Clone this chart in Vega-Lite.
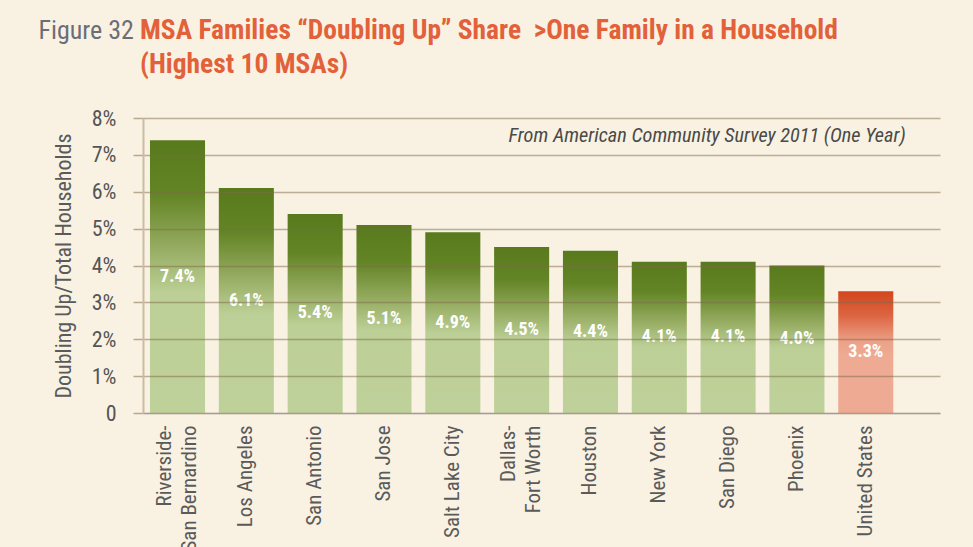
{
  "$schema": "https://vega.github.io/schema/vega-lite/v6.json",
  "width": 797,
  "height": 295,
  "autosize": {"type": "none"},
  "padding": {"left": 143, "top": 118, "right": 33, "bottom": 134},
  "background": "#f9f2e3",
  "config": {
    "view": {"stroke": null},
    "font": "Roboto Condensed, DejaVu Sans Condensed, sans-serif",
    "axisY": {
      "title": "Doubling Up/Total Households",
      "titleFontSize": 22,
      "titleFontWeight": "normal",
      "titleColor": "#5a5a5a",
      "titlePadding": 16,
      "values": [0, 1, 2, 3, 4, 5, 6, 7, 8],
      "labelOverlap": false,
      "labelExpr": "datum.value == 0 ? '0' : datum.value + '%'",
      "labelFontSize": 22,
      "labelColor": "#555555",
      "labelPadding": 17,
      "tickSize": 10,
      "tickColor": "#8a7758",
      "tickOpacity": 0.6,
      "tickWidth": 1.5,
      "grid": true,
      "gridColor": "#7d6a4a",
      "gridOpacity": 0.5,
      "gridWidth": 1.5,
      "domainColor": "#cbbba2",
      "domainWidth": 2,
      "zindex": 1
    }
  },
  "title": {
    "text": ["MSA Families \u201cDoubling Up\u201d Share \u00a0>One Family in a Household", "(Highest 10 MSAs)"],
    "anchor": "start",
    "frame": "group",
    "dx": -3,
    "offset": -61,
    "font": "Roboto Condensed, DejaVu Sans Condensed, sans-serif",
    "fontSize": 27.5,
    "fontWeight": "bold",
    "color": "#e2613a",
    "lineHeight": 34
  },
  "data": {
    "values": [
      {"msa": "Riverside-San Bernardino", "value": 7.4, "group": "MSA"},
      {"msa": "Los Angeles", "value": 6.1, "group": "MSA"},
      {"msa": "San Antonio", "value": 5.4, "group": "MSA"},
      {"msa": "San Jose", "value": 5.1, "group": "MSA"},
      {"msa": "Salt Lake City", "value": 4.9, "group": "MSA"},
      {"msa": "Dallas-Fort Worth", "value": 4.5, "group": "MSA"},
      {"msa": "Houston", "value": 4.4, "group": "MSA"},
      {"msa": "New York", "value": 4.1, "group": "MSA"},
      {"msa": "San Diego", "value": 4.1, "group": "MSA"},
      {"msa": "Phoenix", "value": 4.0, "group": "MSA"},
      {"msa": "United States", "value": 3.3, "group": "US"}
    ]
  },
  "encoding": {
    "x": {
      "field": "msa",
      "type": "nominal",
      "sort": null,
      "scale": {"paddingInner": 0.2, "paddingOuter": 0.39, "align": 0.13},
      "axis": {
        "title": "Figure 32",
        "titleX": -105,
        "titleY": -375,
        "titleAlign": "left",
        "titleBaseline": "alphabetic",
        "titleAngle": 0,
        "titleFontSize": 26,
        "titleFontWeight": "normal",
        "titleColor": "#6b6e77",
        "labelAngle": -90,
        "labelFontSize": 21,
        "labelColor": "#5a5a5a",
        "labelPadding": 12,
        "labelLineHeight": 25,
        "labelOffset": {
          "condition": {"test": "datum.value == 'Riverside-San Bernardino' || datum.value == 'Dallas-Fort Worth'", "value": -12.5},
          "value": 0
        },
        "ticks": false,
        "domainColor": "#d2d0cc",
        "domainWidth": 1.5,
        "labelExpr": "datum.label == 'Riverside-San Bernardino' ? ['Riverside-', 'San Bernardino'] : datum.label == 'Dallas-Fort Worth' ? ['Dallas-', 'Fort Worth'] : datum.label"
      }
    }
  },
  "layer": [
    {
      "mark": {"type": "bar"},
      "encoding": {
        "y": {
          "field": "value",
          "type": "quantitative",
          "scale": {"domain": [0, 8], "nice": false},
          "title": "Doubling Up/Total Households",
          "axis": {"zindex": 1}
        },
        "fill": {
          "condition": {
            "test": "datum.group == 'US'",
            "value": {
              "gradient": "linear", "x1": 0, "y1": 0, "x2": 0, "y2": 1,
              "stops": [
                {"offset": 0, "color": "#d2461e"},
                {"offset": 0.2, "color": "#dc6542"},
                {"offset": 0.42, "color": "#eca38a"},
                {"offset": 0.52, "color": "#eeaa92"},
                {"offset": 1, "color": "#eeaa92"}
              ]
            }
          },
          "value": {
            "gradient": "linear", "x1": 0, "y1": 0, "x2": 0, "y2": 1,
            "stops": [
              {"offset": 0, "color": "#587a1c"},
              {"offset": 0.2, "color": "#648526"},
              {"offset": 0.4, "color": "#97ad63"},
              {"offset": 0.56, "color": "#bccf96"},
              {"offset": 1, "color": "#bfd19a"}
            ]
          }
        }
      }
    },
    {
      "transform": [
        {"calculate": "datum.value / 2", "as": "mid"},
        {"calculate": "format(datum.value, '.1f') + '%'", "as": "label"}
      ],
      "mark": {"type": "text", "color": "white", "fontWeight": "bold", "fontSize": 18, "baseline": "middle"},
      "encoding": {
        "y": {"field": "mid", "type": "quantitative", "title": "Doubling Up/Total Households", "axis": {"zindex": 1}},
        "text": {"field": "label"}
      }
    },
    {
      "data": {"values": [{"msa": "United States", "y": 7.5, "note": "From American Community Survey 2011 (One Year)"}]},
      "mark": {"type": "text", "align": "right", "baseline": "middle", "dx": 40, "fontStyle": "italic", "fontSize": 20.3, "color": "#4a4a48"},
      "encoding": {
        "y": {"field": "y", "type": "quantitative", "title": "Doubling Up/Total Households", "axis": {"zindex": 1}},
        "text": {"field": "note"}
      }
    }
  ]
}
